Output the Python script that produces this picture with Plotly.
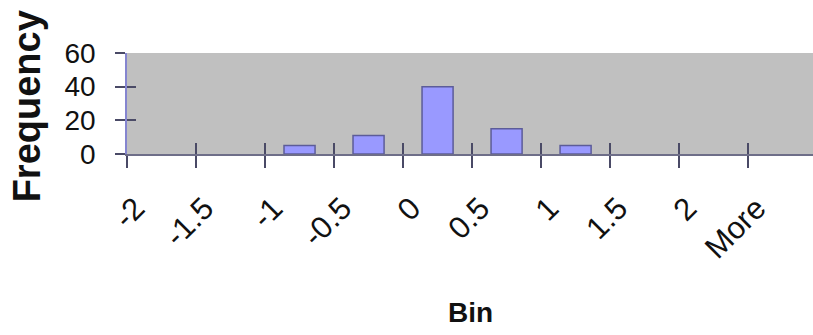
import plotly.graph_objects as go

# Histogram bins and their counts
bins = ["-2", "-1.5", "-1", "-0.5", "0", "0.5", "1", "1.5", "2", "More"]
frequency = [0, 0, 5, 11, 40, 15, 5, 0, 0, 0]
y_ticks = [0, 20, 40, 60]

W, H = 813, 335
FONT = "Liberation Sans, Arial, sans-serif"
TICK_COLOR = "#4a4a66"

# bin boundaries (category i spans i-0.5 .. i+0.5)
boundaries = [i - 0.5 for i in range(len(bins))]
x_range = [-0.5, len(bins) - 0.56]

# empty bins get no outline, so nothing is drawn for them
outline_widths = [1.5 if v else 0 for v in frequency]

fig = go.Figure()
fig.add_trace(go.Bar(
    x=bins, y=frequency,
    marker=dict(color="#9999FF",
                line=dict(color="#5c5c99", width=outline_widths)),
    showlegend=False,
))
# empty trace so the overlay axes (inner tick halves) get a subplot
fig.add_trace(go.Scatter(x=[], y=[], xaxis="x2", yaxis="y2",
                         showlegend=False, hoverinfo="skip"))

fig.update_layout(
    width=W, height=H,
    margin=dict(l=127, r=0, t=53, b=181),
    paper_bgcolor="white",
    plot_bgcolor="#C0C0C0",
    bargap=0.55,
    font=dict(family=FONT, color="#111111"),
    xaxis=dict(
        type="category", range=x_range,
        tickson="boundaries", ticks="outside", ticklen=12, tickwidth=1.5,
        tickcolor=TICK_COLOR,
        tickangle=-45, ticklabelshift=-26, ticklabelstandoff=22,
        tickfont=dict(size=31, family=FONT, color="#111111"),
        showline=True, linecolor="#6e6e88", linewidth=1.5,
        showgrid=False, zeroline=False, fixedrange=True,
    ),
    yaxis=dict(
        range=[0, 60], tickvals=y_ticks,
        ticks="outside", ticklen=10, tickwidth=1.5, tickcolor=TICK_COLOR,
        ticklabelstandoff=14,
        tickfont=dict(size=28, family=FONT, color="#111111"),
        showline=True, linecolor="#8585d0", linewidth=1.5,
        showgrid=False, zeroline=False, fixedrange=True,
    ),
    xaxis2=dict(
        overlaying="x", anchor="y", side="bottom", type="linear",
        range=x_range, tickvals=boundaries,
        ticks="inside", ticklen=11, tickwidth=1.5, tickcolor=TICK_COLOR,
        showticklabels=False, showline=False, showgrid=False, zeroline=False,
    ),
    yaxis2=dict(
        overlaying="y", anchor="x", side="left",
        range=[0, 60], tickvals=y_ticks,
        ticks="inside", ticklen=9, tickwidth=1.5, tickcolor=TICK_COLOR,
        showticklabels=False, showline=False, showgrid=False, zeroline=False,
    ),
    annotations=[
        dict(text="<b>Frequency</b>", textangle=-90, xref="paper", yref="paper",
             x=-0.146, y=0.47, xanchor="center", yanchor="middle",
             showarrow=False, font=dict(size=38, family=FONT, color="#111111")),
        dict(text="<b>Bin</b>", xref="paper", yref="paper",
             x=0.5, y=-1.57, xanchor="center", yanchor="middle",
             showarrow=False, font=dict(size=28, family=FONT, color="#111111")),
    ],
)

fig.write_html("out.html")
